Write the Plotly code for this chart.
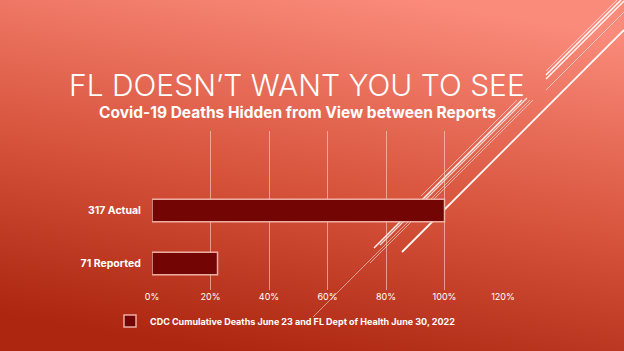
import base64
import plotly.graph_objects as go

W, H = 624, 351

# ---- data ----
categories = ["71 Reported", "317 Actual"]
deaths = [71, 317]
share_of_actual = [0.224, 1.0]
x_ticks = [0, 0.2, 0.4, 0.6, 0.8, 1.0, 1.2]
series_name = "CDC Cumulative Deaths June 23 and FL Dept of Health June 30, 2022"
title_text = "FL DOESN\u2019T WANT YOU TO SEE"
subtitle_text = "Covid-19 Deaths Hidden from View between Reports"

FONT = "Inter, Lato, 'Noto Sans', sans-serif"

def px(x):
    return x / W

def py(y):
    return 1 - y / H

# background gradient as inline svg
svg = f"""<svg xmlns='http://www.w3.org/2000/svg' width='{W}' height='{H}' viewBox='0 0 {W} {H}' preserveAspectRatio='none'>
<defs><linearGradient id='g' x1='0.35' y1='1' x2='0.65' y2='0'>
<stop offset='0' stop-color='#AC2610'/>
<stop offset='0.5' stop-color='#D9563F'/>
<stop offset='1' stop-color='#FA8A7A'/>
</linearGradient></defs>
<rect width='{W}' height='{H}' fill='url(#g)'/></svg>"""
src = "data:image/svg+xml;base64," + base64.b64encode(svg.encode()).decode()

fig = go.Figure()
fig.add_trace(go.Bar(
    y=categories, x=share_of_actual, orientation="h", name=series_name,
    customdata=deaths, width=0.42,
    marker=dict(color="#740505", line=dict(color="rgba(245,190,180,0.9)", width=1.5)),
    showlegend=True,
))

# decorative slide lines (pixel coords)
deco = [
    ((546, 71), (617, 0), "rgba(255,255,255,0.6)", 1),
    ((546, 75), (621, 0), "rgba(255,255,255,0.95)", 1.5),
    ((546, 79), (624, 1), "rgba(255,255,255,0.95)", 1.5),
    ((546, 90), (624, 12), "rgba(255,255,255,0.55)", 1),
    ((402, 252), (624, 30), "rgba(255,255,255,0.95)", 1.8),
    ((421, 196), (517, 100), "rgba(255,255,255,0.55)", 1),
    ((374, 248), (522, 100), "rgba(255,255,255,0.95)", 1.5),
    ((380, 245), (527, 98), "rgba(255,255,255,0.8)", 1.2),
    ((370, 263), (533, 100), "rgba(255,255,255,0.55)", 1),
    ((313, 317), (530, 100), "rgba(255,255,255,0.5)", 1),
]
shapes = []
for (x0, y0), (x1, y1), c, w in deco:
    shapes.append(dict(type="line", xref="paper", yref="paper",
                       x0=px(x0), y0=py(y0), x1=px(x1), y1=py(y1),
                       line=dict(color=c, width=w), layer="below"))

fig.update_layout(
    width=W, height=H,
    margin=dict(l=0, r=0, t=0, b=0, autoexpand=False),
    paper_bgcolor="#D9563F",
    plot_bgcolor="rgba(0,0,0,0)",
    images=[dict(source=src, xref="paper", yref="paper", x=0, y=1, sizex=1, sizey=1,
                 sizing="stretch", xanchor="left", yanchor="top", layer="below")],
    shapes=shapes,
    bargap=0.5,
    xaxis=dict(domain=[px(152), px(503)], range=[0, 1.2], tickvals=x_ticks,
               tickformat=".0%", showgrid=True, gridcolor="rgba(255,215,205,0.6)",
               gridwidth=1, zeroline=False, showline=False, ticks="",
               automargin=False,
               tickfont=dict(family=FONT, size=9, color="white"), fixedrange=True),
    yaxis=dict(domain=[py(290), py(131)], range=[-0.5, 2.5], categoryorder="array",
               categoryarray=categories, showgrid=False, zeroline=False, showline=False,
               ticks="outside", ticklen=8, tickcolor="rgba(0,0,0,0)", automargin=False,
               tickfont=dict(family=FONT, size=10.5, color="white", weight="bold")),
    legend=dict(x=px(110), y=py(321), xanchor="left", yanchor="middle",
                bgcolor="rgba(0,0,0,0)", font=dict(family=FONT, size=9, color="white", weight="bold"),
                itemwidth=30),
    annotations=[
        dict(text=title_text, xref="paper", yref="paper", x=px(297), y=py(85),
             showarrow=False, xanchor="center", yanchor="middle",
             font=dict(family=FONT, size=30, color="white", weight=300)),
        dict(text=subtitle_text, xref="paper", yref="paper", x=px(297), y=py(112),
             showarrow=False, xanchor="center", yanchor="middle",
             font=dict(family=FONT, size=15.5, color="white", weight="bold")),
    ],
)

fig.write_html("out.html")
